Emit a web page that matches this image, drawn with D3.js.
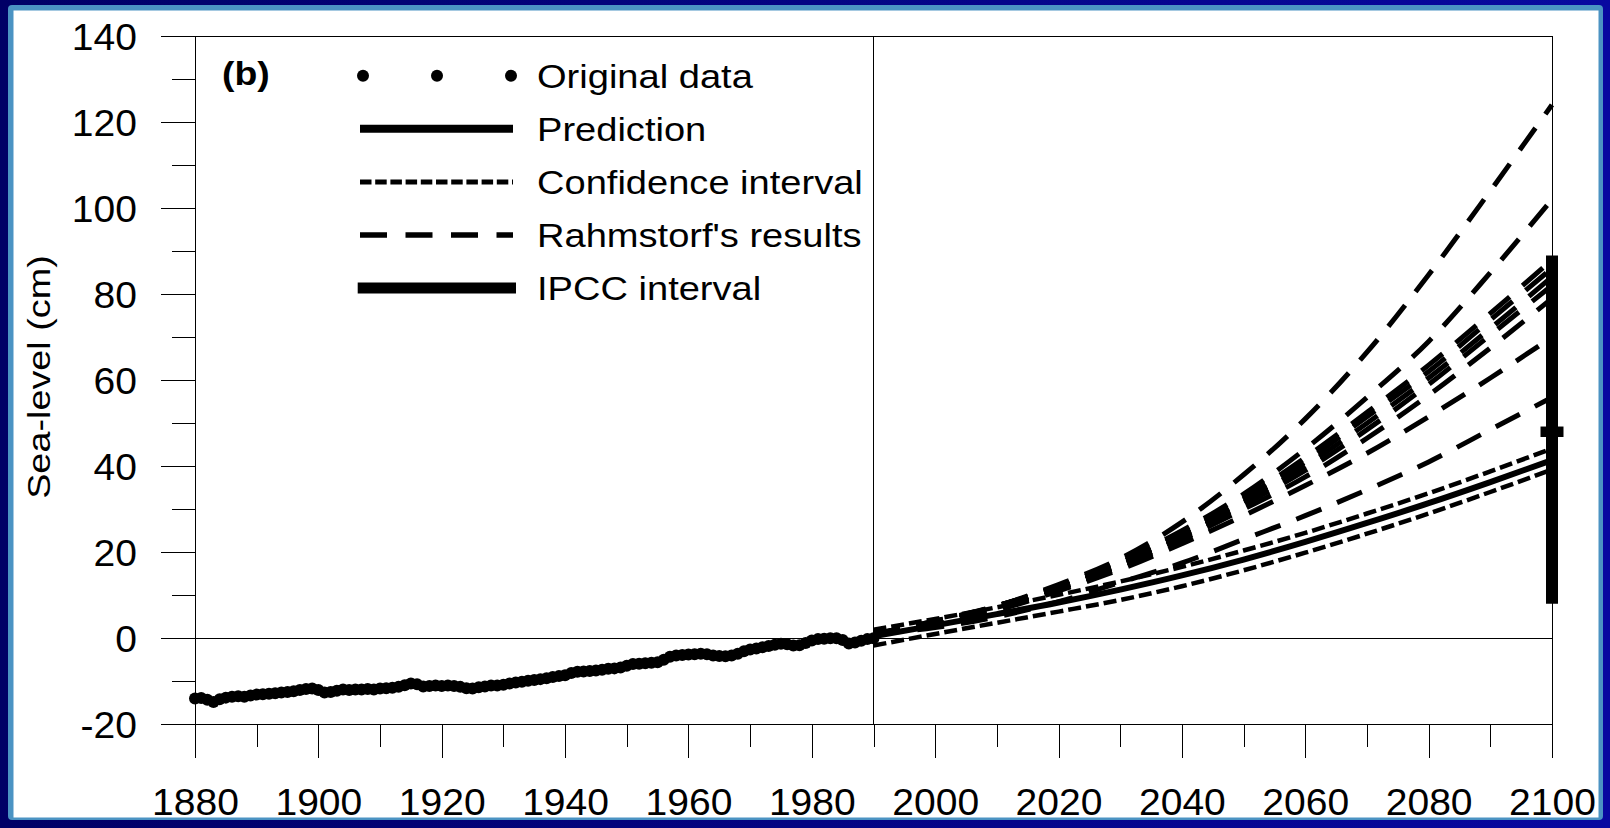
<!DOCTYPE html>
<html>
<head>
<meta charset="utf-8">
<script src="https://cdn.jsdelivr.net/npm/d3@7"></script>
<style>
  body { margin: 0; background: #000070; }
  svg { display: block; }
  text { font-family: "Liberation Sans", Arial, sans-serif; fill: #000; }
</style>
</head>
<body>
<div id="chart"></div>
<script>
// Observed sea-level, one value per year from 1880 to 1990 (cm)
const firstYear = 1880
const seaLevel = [
  -14.0, -13.9, -14.3, -14.8, -14.2, -13.8, -13.6, -13.5, -13.6, -13.3,
  -13.1, -13.0, -12.9, -12.8, -12.6, -12.5, -12.3, -12.0, -11.8, -11.7,
  -12.0, -12.6, -12.5, -12.2, -11.9, -12.0, -11.9, -11.9, -11.8, -11.9,
  -11.7, -11.6, -11.5, -11.3, -10.9, -10.5, -10.7, -11.2, -11.1, -11.0,
  -11.1, -11.0, -11.1, -11.3, -11.6, -11.7, -11.4, -11.2, -11.0, -11.0,
  -10.8, -10.5, -10.3, -10.1, -9.9, -9.7, -9.5, -9.3, -9.0, -8.8,
  -8.6, -8.1, -7.8, -7.7, -7.6, -7.5, -7.3, -7.1, -7.0, -6.8,
  -6.4, -6.0, -5.9, -5.8, -5.7, -5.6, -5.0, -4.3, -4.0, -3.9,
  -3.8, -3.7, -3.6, -3.7, -4.0, -4.1, -4.2, -4.0, -3.6, -3.0,
  -2.6, -2.4, -2.1, -1.8, -1.5, -1.3, -1.4, -1.7, -1.6, -1.1,
  -0.5, -0.2, -0.1, 0.0, 0.0, -0.4, -1.2, -1.0, -0.6, -0.2,
  0.0
]

// Projections, one value per decade
const projYears = [1990, 2000, 2010, 2020, 2030, 2040, 2050, 2060, 2070, 2080, 2090, 2100]
const prediction = [0.5, 3.0, 5.6, 8.3, 11.3, 14.6, 18.3, 22.4, 26.8, 31.4, 36.3, 41.4]
const ciUpper = [2.0, 4.5, 7.2, 10.1, 13.2, 16.6, 20.4, 24.5, 29.0, 33.7, 38.8, 44.1]
const ciLower = [-1.7, 1.0, 3.6, 6.2, 8.9, 12.1, 15.8, 19.9, 24.3, 29.0, 34.0, 39.2]

const rahmstorf = [
  [1, 4.0, 7.5, 12.5, 18.5, 27.0, 38.0, 51.0, 66.5, 84.5, 104.0, 124],
  [1, 4.0, 7.5, 12.0, 18.0, 25.0, 33.5, 44.0, 56.0, 69.0, 85.0, 102],
  [1, 3.5, 7.5, 12.0, 17.5, 24.5, 32.5, 42.0, 52.5, 63.5, 75.5, 88],
  [1, 3.5, 7.5, 12.0, 17.5, 24.0, 32.0, 41.0, 51.5, 62.0, 74.0, 86],
  [1, 3.5, 7.0, 11.5, 17.0, 23.5, 31.5, 40.0, 50.0, 60.5, 72.0, 84],
  [1, 3.5, 7.0, 11.5, 17.0, 23.5, 31.0, 39.0, 48.5, 59.0, 70.5, 82],
  [1, 3.5, 7.0, 11.5, 16.5, 23.0, 30.0, 37.5, 46.5, 56.5, 67.5, 79],
  [1, 3.5, 6.5, 11.0, 16.0, 22.0, 28.5, 35.5, 43.0, 51.5, 60.5, 70],
  [1, 2.5, 5.0, 8.5, 13.0, 17.5, 23.0, 28.5, 34.5, 41.0, 48.5, 56]
]

// IPCC interval at 2100: low, central, high
const ipccYear = 2100
const ipccInterval = [8, 48, 89]

const yMajorTicks = [-20, 0, 20, 40, 60, 80, 100, 120, 140]
const yMinorTicks = [-10, 10, 30, 50, 70, 90, 110, 130]
const xMajorTicks = [1880, 1900, 1920, 1940, 1960, 1980, 2000, 2020, 2040, 2060, 2080, 2100]
const xMinorTicks = [1890, 1910, 1930, 1950, 1970, 1990, 2010, 2030, 2050, 2070, 2090]

const legendLabels = ["Original data", "Prediction", "Confidence interval", "Rahmstorf's results", "IPCC interval"]

const width = 1610, height = 828
const plot = { left: 195, right: 1552, top: 36, bottom: 724.3 }

const xScale = d3.scaleLinear().domain([1880, 2100]).range([plot.left, plot.right])
const yScale = d3.scaleLinear().domain([-20, 140]).range([plot.bottom, plot.top])

const svg = d3.select("#chart")
  .append("svg")
  .attr("width", width)
  .attr("height", height)

drawFrame(svg)
drawAxes(svg)
drawSeries(svg)
drawLegend(svg)

function drawFrame(svg) {
  const defs = svg.append("defs")
  const grad = defs.append("linearGradient").attr("id", "navy")
  grad.append("stop").attr("offset", "0%").attr("stop-color", "#000066")
  grad.append("stop").attr("offset", "100%").attr("stop-color", "#0808a0")

  svg.append("rect").attr("width", width).attr("height", height).attr("fill", "url(#navy)")
  svg.append("rect")
    .attr("x", 8).attr("y", 5).attr("width", 1595).attr("height", 815)
    .attr("rx", 4).attr("fill", "#4b93c3")
  svg.append("rect")
    .attr("x", 13.5).attr("y", 10.5).attr("width", 1585).attr("height", 807)
    .attr("fill", "#fff")
}

function drawAxes(svg) {
  const g = svg.append("g").attr("class", "axes").attr("shape-rendering", "crispEdges")

  // y axis: minor ticks, then major ticks with labels (plain hyphen for negatives)
  g.append("g")
    .attr("transform", `translate(${plot.left},0)`)
    .call(d3.axisLeft(yScale).tickValues(yMinorTicks).tickSize(23).tickSizeOuter(0).tickFormat(""))
  const yAxis = g.append("g")
    .attr("transform", `translate(${plot.left},0)`)
    .call(d3.axisLeft(yScale).tickValues(yMajorTicks).tickSize(34).tickSizeOuter(0).tickFormat(d => String(d)))
  yAxis.selectAll("text")
    .attr("x", null)
    .attr("dy", "0.36em")
    .attr("transform", "translate(-58,0) scale(1.07,1)")
    .style("font-size", "36.5px")

  // x axis
  g.append("g")
    .attr("transform", `translate(0,${plot.bottom})`)
    .call(d3.axisBottom(xScale).tickValues(xMinorTicks).tickSize(23).tickSizeOuter(0).tickFormat(""))
  const xAxis = g.append("g")
    .attr("transform", `translate(0,${plot.bottom})`)
    .call(d3.axisBottom(xScale).tickValues(xMajorTicks).tickSize(34).tickSizeOuter(0).tickFormat(d => String(d)))
  xAxis.selectAll("text")
    .attr("y", null)
    .attr("dy", null)
    .attr("transform", "translate(0,91) scale(1.07,1)")
    .style("font-size", "36.5px")

  g.selectAll(".domain").remove()
  g.selectAll("line").attr("stroke", "#000")
  g.selectAll("text").attr("fill", "#000").attr("font-family", null)

  // plot box, zero line and 1990 divider
  g.append("rect")
    .attr("x", plot.left).attr("y", plot.top)
    .attr("width", plot.right - plot.left).attr("height", plot.bottom - plot.top)
    .attr("fill", "none").attr("stroke", "#000")
  g.append("line")
    .attr("x1", plot.left).attr("x2", plot.right)
    .attr("y1", yScale(0)).attr("y2", yScale(0))
    .attr("stroke", "#000")
  g.append("line")
    .attr("x1", xScale(1990)).attr("x2", xScale(1990))
    .attr("y1", plot.top).attr("y2", plot.bottom)
    .attr("stroke", "#000")

  // y axis title
  svg.append("text")
    .attr("transform", `translate(50,377) rotate(-90) scale(1.24,1)`)
    .attr("text-anchor", "middle")
    .style("font-size", "30.5px")
    .text("Sea-level (cm)")
}

function drawSeries(svg) {
  const line = d3.line()
    .x((d, i) => xScale(projYears[i]))
    .y(d => yScale(d))
    .curve(d3.curveMonotoneX)

  // Original data as dots
  svg.append("g")
    .selectAll("circle")
    .data(seaLevel)
    .enter().append("circle")
    .attr("cx", (d, i) => xScale(firstYear + i))
    .attr("cy", d => yScale(d))
    .attr("r", 6)
    .attr("fill", "#000")

  // Confidence interval
  for (const ci of [ciUpper, ciLower]) {
    svg.append("path")
      .datum(ci)
      .attr("d", line)
      .attr("fill", "none")
      .attr("stroke", "#000")
      .attr("stroke-width", 4.5)
      .attr("stroke-dasharray", "13,5")
  }

  // Prediction
  svg.append("path")
    .datum(prediction)
    .attr("d", line)
    .attr("fill", "none")
    .attr("stroke", "#000")
    .attr("stroke-width", 6)

  // Rahmstorf's results
  svg.append("g")
    .selectAll("path")
    .data(rahmstorf)
    .enter().append("path")
    .attr("d", line)
    .attr("fill", "none")
    .attr("stroke", "#000")
    .attr("stroke-width", 5)
    .attr("stroke-dasharray", "27,17")

  // IPCC interval bar with central tick
  svg.append("line")
    .attr("x1", xScale(ipccYear)).attr("x2", xScale(ipccYear))
    .attr("y1", yScale(ipccInterval[0])).attr("y2", yScale(ipccInterval[2]))
    .attr("stroke", "#000")
    .attr("stroke-width", 12)
  svg.append("line")
    .attr("x1", xScale(ipccYear) - 11.5).attr("x2", xScale(ipccYear) + 11.5)
    .attr("y1", yScale(ipccInterval[1])).attr("y2", yScale(ipccInterval[1]))
    .attr("stroke", "#000")
    .attr("stroke-width", 10.5)
}

function drawLegend(svg) {
  const lg = svg.append("g").attr("class", "legend")
  const rowY = d3.range(legendLabels.length).map(i => 75.7 + i * 53.1)

  lg.append("text")
    .attr("transform", "translate(222,85) scale(1.1,1)")
    .style("font-size", "34px")
    .style("font-weight", "bold")
    .text("(b)")

  lg.selectAll(".legend-dot")
    .data([363, 437, 511])
    .enter().append("circle")
    .attr("class", "legend-dot")
    .attr("cx", d => d)
    .attr("cy", rowY[0])
    .attr("r", 6)
    .attr("fill", "#000")

  const sample = (i, w, dash, x1, x2) => lg.append("line")
    .attr("x1", x1 || 360).attr("x2", x2 || 513)
    .attr("y1", rowY[i]).attr("y2", rowY[i])
    .attr("stroke", "#000")
    .attr("stroke-width", w)
    .attr("stroke-dasharray", dash)

  sample(1, 8, null)
  sample(2, 5, "11.5,3.7")
  sample(3, 5.5, "27,18.5")
  sample(4, 11, null, 357.7, 516)

  lg.selectAll(".legend-label")
    .data(legendLabels)
    .enter().append("text")
    .attr("class", "legend-label")
    .attr("transform", (d, i) => `translate(537,${rowY[i] + 12}) scale(1.12,1)`)
    .style("font-size", "34px")
    .text(d => d)
}
</script>
</body>
</html>
